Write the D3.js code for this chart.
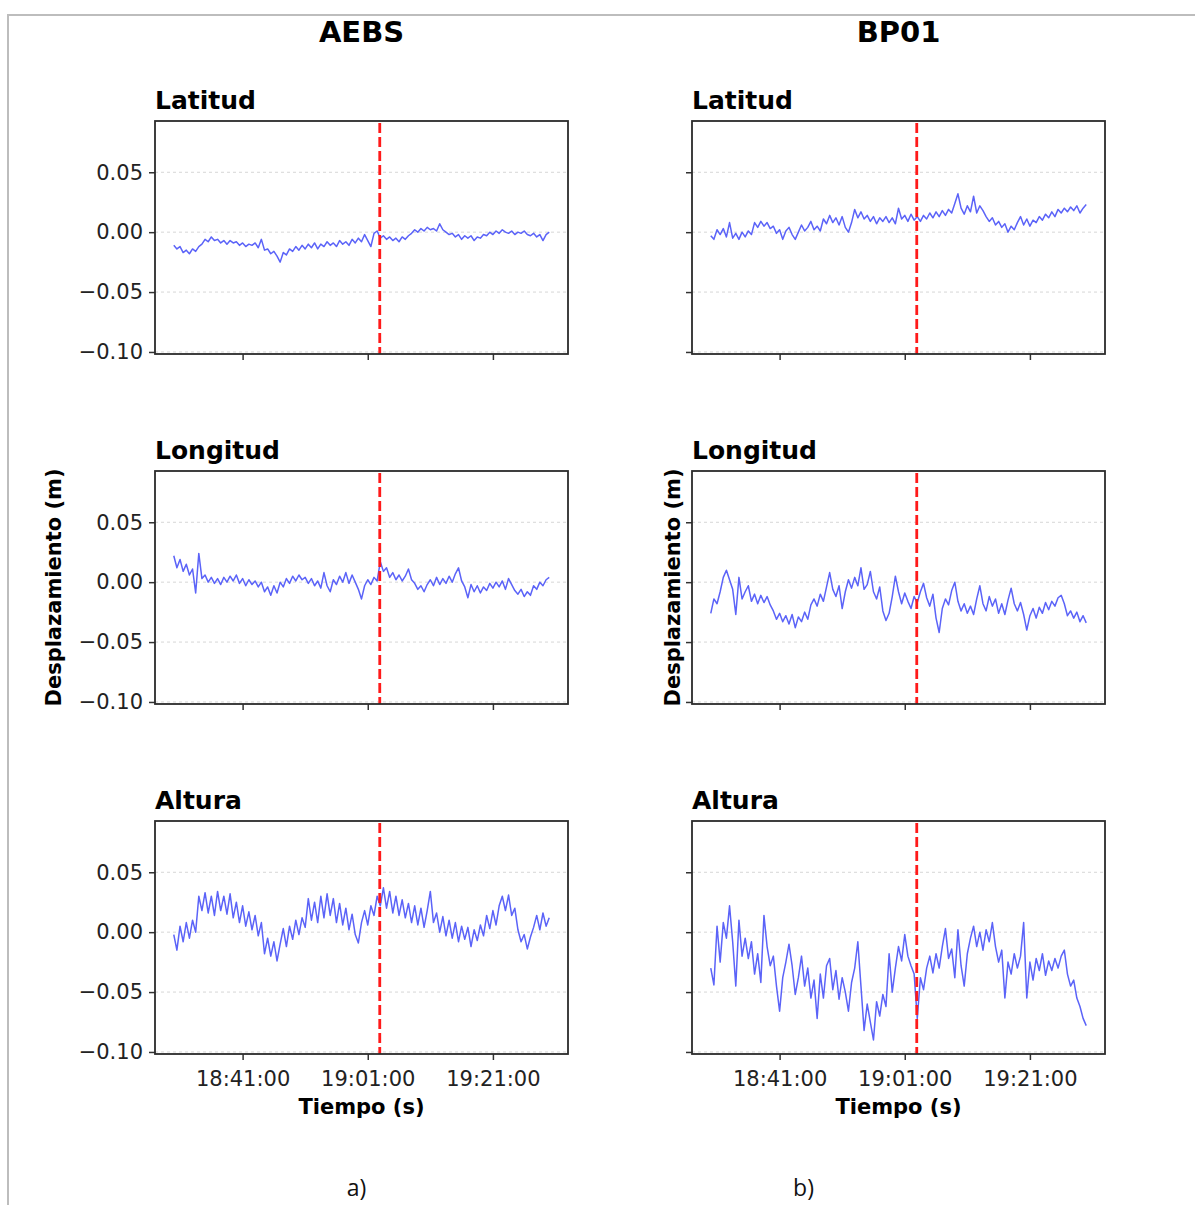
<!DOCTYPE html>
<html><head><meta charset="utf-8">
<script src="https://cdn.jsdelivr.net/npm/d3@7"></script>
<style>body{margin:0;background:#fff}svg{display:block}</style>
</head><body><svg id="c" width="1195" height="1205"></svg>
<script>
const stations = ["AEBS", "BP01"];
const components = ["Latitud", "Longitud", "Altura"];
const panelLetters = ["a)", "b)"];
const xTickLabels = ["18:41:00", "19:01:00", "19:21:00"];
const yTickValues = [-0.10, -0.05, 0.00, 0.05];
const yDomain = [-0.1017, 0.0928];
const xDomain = ["18:27:00", "19:33:00"];
const sampleStart = "18:30:00";
const sampleStepSeconds = 30;
const eventTime = "19:02:55";
const yLabel = "Desplazamiento (m)";
const xLabel = "Tiempo (s)";

// displacement values in millimetres, one sample every 30 s from 18:30:00
const aebsLatitud = [-11,-14,-12,-17,-15,-18,-14,-16,-12,-10,-6,-8,-4,-7,-6,-9,-7,-10,-7,-9,-8,-11,-9,-12,-10,-11,-9,-13,-6,-15,-14,-18,-16,-20,-25,-17,-19,-14,-16,-12,-15,-11,-14,-10,-13,-9,-14,-10,-12,-8,-11,-9,-12,-7,-10,-8,-11,-6,-9,-5,-8,-2,-7,-12,-1,1,-5,-3,-6,-4,-7,-5,-8,-4,-6,-3,-1,2,0,3,1,4,2,3,1,7,2,0,-2,-1,-4,-2,-6,-3,-5,-3,-7,-4,-5,-2,-3,0,-2,1,-1,2,0,-1,1,-2,0,-1,1,-2,-3,-1,-4,-2,-7,-2,0];
const aebsLongitud = [22,12,19,9,15,6,11,-9,24,3,6,0,4,-1,3,-2,4,0,5,1,6,-1,3,-3,2,-2,1,-4,0,-8,-4,-11,-3,-9,0,-4,3,-1,5,1,6,2,4,-1,3,-3,1,-5,8,-3,-8,2,-2,5,0,8,-1,6,0,-6,-14,-3,2,-2,4,1,17,9,12,4,8,2,6,1,5,11,2,-1,-6,-3,-8,-2,2,-3,4,-2,3,-1,5,0,7,12,1,-4,-13,-2,-8,-3,-9,-4,-7,-1,-5,0,-4,1,-6,3,-2,-7,-10,-6,-12,-8,-11,-3,-6,0,-3,2,4];
const aebsAltura = [-2,-15,5,-8,8,-5,10,0,30,18,33,16,30,14,34,18,30,15,32,12,25,8,22,5,17,2,14,-3,8,-18,-5,-20,-8,-24,-10,3,-12,5,-6,10,-2,12,4,28,10,25,8,30,12,32,14,28,8,24,6,20,2,15,-2,-9,8,18,6,22,14,30,22,37,20,34,16,30,14,27,12,24,8,22,6,20,4,18,34,8,16,0,13,-3,10,-5,8,-8,5,-6,4,-12,2,-7,6,-3,14,3,18,6,22,30,18,31,14,20,2,-8,-2,-14,-4,4,14,2,16,5,12];
const bp01Latitud = [-3,-6,2,-2,3,-4,8,-5,-1,-6,0,-4,1,-2,8,4,9,5,8,3,5,-1,2,-6,1,4,-2,-6,0,6,1,4,9,2,5,1,11,7,14,8,12,6,13,4,0,8,19,12,17,11,14,9,13,7,12,9,13,8,12,7,20,11,14,9,15,10,13,9,14,11,16,12,17,13,18,14,19,16,24,32,20,15,22,17,30,16,22,18,13,9,12,6,9,4,7,0,5,2,8,13,6,11,5,10,8,13,10,15,12,17,13,19,16,20,17,21,18,22,16,20,23];
const bp01Longitud = [-26,-14,-18,-8,4,10,2,-6,-27,4,-14,-8,-3,-16,-10,-18,-11,-17,-12,-19,-24,-31,-26,-33,-28,-35,-27,-38,-29,-33,-25,-31,-19,-14,-20,-10,-16,-4,8,-6,-12,-3,-22,-8,2,-5,4,-3,12,-6,-2,9,-8,-14,-4,-24,-32,-26,-12,5,-8,-18,-9,-16,-22,-12,-17,-8,-1,-13,-20,-10,-30,-42,-22,-14,-19,-7,0,-16,-24,-18,-26,-20,-27,-14,-3,-18,-24,-12,-20,-14,-26,-18,-27,-15,-5,-18,-24,-17,-27,-40,-28,-22,-30,-21,-26,-17,-23,-16,-20,-13,-11,-18,-28,-24,-30,-25,-33,-28,-34];
const bp01Altura = [-30,-44,5,-25,8,-5,22,-8,-45,10,-20,-5,-22,-8,-35,-18,-42,14,-12,-28,-20,-45,-66,-38,-25,-10,-28,-52,-38,-20,-45,-30,-55,-40,-72,-35,-55,-28,-22,-48,-32,-56,-38,-50,-66,-42,-30,-8,-45,-82,-60,-75,-90,-58,-70,-52,-62,-18,-50,-30,-12,-24,-2,-20,-28,-35,-72,-38,-48,-30,-20,-34,-18,-30,-12,3,-22,-14,-38,2,-28,-45,-18,-5,5,-12,0,-15,2,-8,8,-12,-25,-15,-55,-25,-35,-18,-30,-20,8,-55,-25,-40,-22,-32,-18,-36,-24,-32,-22,-30,-20,-15,-35,-45,-40,-55,-62,-72,-78];

const seriesByStation = {
  AEBS: [aebsLatitud, aebsLongitud, aebsAltura],
  BP01: [bp01Latitud, bp01Longitud, bp01Altura]
};

const parse = d3.timeParse("%H:%M:%S");
const t0 = parse(sampleStart).getTime();
const times = d3.range(aebsLatitud.length).map(i => new Date(t0 + i * sampleStepSeconds * 1000));
const evt = parse(eventTime);

const FONT = "DejaVu Sans";
const svg = d3.select("#c");

// outer frame of the figure image
svg.append("line").attr("x1", 7).attr("x2", 1195).attr("y1", 15).attr("y2", 15)
  .attr("stroke", "#bdbdbd").attr("stroke-width", 2);
svg.append("line").attr("x1", 8).attr("x2", 8).attr("y1", 14).attr("y2", 1205)
  .attr("stroke", "#bdbdbd").attr("stroke-width", 2);

const W = 413, H = 233;
const colX = [155, 692];
const rowY = [121, 471, 821];
const yLabelX = [61, 680];

const x = d3.scaleTime().domain(xDomain.map(parse)).range([0, W]);
const y = d3.scaleLinear().domain(yDomain).range([H, 0]);
const line = d3.line().x((d, i) => x(times[i])).y(d => y(d / 1000));

stations.forEach((st, c) => {
  svg.append("text").attr("x", colX[c] + W / 2).attr("y", 42)
    .attr("text-anchor", "middle").attr("font-family", FONT).attr("font-weight", "bold")
    .attr("font-size", 29).attr("fill", "#000").text(st);

  components.forEach((comp, r) => {
    const g = svg.append("g").attr("transform", `translate(${colX[c]},${rowY[r]})`);

    g.append("text").attr("x", 0).attr("y", -12).attr("font-family", FONT)
      .attr("font-weight", "bold").attr("font-size", 25).attr("fill", "#000").text(comp);

    g.selectAll("line.grid").data(yTickValues).join("line").attr("class", "grid")
      .attr("x1", 0).attr("x2", W).attr("y1", d => y(d)).attr("y2", d => y(d))
      .attr("stroke", "#d6d6d6").attr("stroke-width", 1).attr("stroke-dasharray", "3,3");

    g.append("path").datum(seriesByStation[st][r]).attr("d", line)
      .attr("fill", "none").attr("stroke", "#5b63f8").attr("stroke-width", 1.5)
      .attr("stroke-linejoin", "round");

    g.append("line").attr("x1", x(evt)).attr("x2", x(evt)).attr("y1", 2).attr("y2", H)
      .attr("stroke", "#ff1a1a").attr("stroke-width", 2.8).attr("stroke-dasharray", "10,4");

    const yAxis = d3.axisLeft(y).tickValues(yTickValues).tickSize(6).tickPadding(6)
      .tickFormat(c === 0 ? d3.format(".2f") : () => "");
    const ya = g.append("g").call(yAxis);
    ya.select(".domain").remove();
    ya.selectAll(".tick line").attr("stroke", "#333").attr("stroke-width", 1.5);
    ya.selectAll(".tick text").attr("font-family", FONT).attr("font-size", 21).attr("fill", "#222");

    const xAxis = d3.axisBottom(x).tickValues(xTickLabels.map(parse)).tickSize(6).tickPadding(6)
      .tickFormat(r === 2 ? d3.timeFormat("%H:%M:%S") : () => "");
    const xa = g.append("g").attr("transform", `translate(0,${H})`).call(xAxis);
    xa.select(".domain").remove();
    xa.selectAll(".tick line").attr("stroke", "#333").attr("stroke-width", 1.5);
    xa.selectAll(".tick text").attr("font-family", FONT).attr("font-size", 21).attr("fill", "#222")
      .attr("y", 32).attr("dy", 0);

    g.append("rect").attr("x", 0).attr("y", 0).attr("width", W).attr("height", H)
      .attr("fill", "none").attr("stroke", "#2b2b2b").attr("stroke-width", 1.8);

    if (r === 1) {
      svg.append("text").attr("transform", `translate(${yLabelX[c]},${rowY[r] + H / 2}) rotate(-90)`)
        .attr("text-anchor", "middle").attr("font-family", FONT).attr("font-weight", "bold")
        .attr("font-size", 21).attr("fill", "#000").text(yLabel);
    }
    if (r === 2) {
      svg.append("text").attr("x", colX[c] + W / 2).attr("y", rowY[r] + H + 60)
        .attr("text-anchor", "middle").attr("font-family", FONT).attr("font-weight", "bold")
        .attr("font-size", 21).attr("fill", "#000").text(xLabel);
    }
  });

  svg.append("text").attr("x", colX[c] + W / 2 - 5 + c * (-90)).attr("y", 1196)
    .attr("text-anchor", "middle").attr("font-family", "Open Sans").attr("font-size", 23)
    .attr("fill", "#111").text(panelLetters[c]);
});
</script></body></html>
